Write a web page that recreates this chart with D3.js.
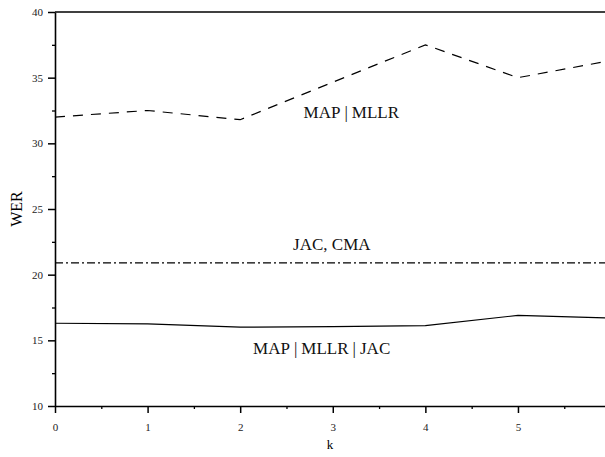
<!DOCTYPE html>
<html>
<head>
<meta charset="utf-8">
<script src="https://cdn.jsdelivr.net/npm/d3@7"></script>
<style>
  body { margin: 0; background: #fff; }
  svg text { font-family: "Liberation Serif", "DejaVu Serif", serif; }
</style>
</head>
<body>
<div id="chart"></div>
<script>
// values
const kValues = [0, 1, 2, 3, 4, 5, 6];
const mapMllr = [32.0, 32.5, 31.8, 34.65, 37.5, 35.0, 36.3];
const mapMllrJac = [16.3, 16.25, 16.0, 16.05, 16.12, 16.9, 16.7];
const jacCma = [20.9, 20.9, 20.9, 20.9, 20.9, 20.9, 20.9];
const xTicks = [0, 1, 2, 3, 4, 5];
const yTicks = [10, 15, 20, 25, 30, 35, 40];

const width = 605, height = 457;
const margin = {top: 12, right: 0, bottom: 51, left: 55};
const serif = '"Liberation Serif", "DejaVu Serif", serif';

const svg = d3.select('#chart')
    .append('svg')
    .attr('width', width)
    .attr('height', height)
    .attr('font-family', serif);

const x = d3.scaleLinear()
    .domain([0, 5.94])
    .range([margin.left, width - margin.right]);
const y = d3.scaleLinear()
    .domain([10, 40])
    .range([height - margin.bottom, margin.top]);

svg.append('clipPath')
    .attr('id', 'plot-clip')
    .append('rect')
    .attr('x', margin.left)
    .attr('y', margin.top)
    .attr('width', width - margin.left - margin.right)
    .attr('height', height - margin.top - margin.bottom);

// minor ticks
svg.append('g')
    .attr('transform', `translate(0,${y(10)})`)
    .call(d3.axisBottom(x).tickValues([0.5, 1.5, 2.5, 3.5, 4.5, 5.5]).tickSize(3).tickFormat(''))
    .call(g => g.select('.domain').remove())
    .call(g => g.selectAll('line').attr('stroke-width', 1.3));
svg.append('g')
    .attr('transform', `translate(${x(0)},0)`)
    .call(d3.axisLeft(y).tickValues([12.5, 17.5, 22.5, 27.5, 32.5, 37.5]).tickSize(3).tickFormat(''))
    .call(g => g.select('.domain').remove())
    .call(g => g.selectAll('line').attr('stroke-width', 1.3));

// major axes
svg.append('g')
    .attr('transform', `translate(0,${y(10)})`)
    .call(d3.axisBottom(x).tickValues(xTicks).tickFormat(d3.format('d'))
        .tickSize(7).tickSizeOuter(0).tickPadding(10))
    .attr('font-family', serif)
    .call(g => g.select('.domain').attr('stroke-width', 1.6))
    .call(g => g.selectAll('line').attr('stroke-width', 1.5))
    .call(g => g.selectAll('text').attr('font-size', 11).attr('fill', '#222'));

svg.append('g')
    .attr('transform', `translate(${x(0)},0)`)
    .call(d3.axisLeft(y).tickValues(yTicks).tickFormat(d3.format('d'))
        .tickSize(7).tickSizeOuter(0).tickPadding(5))
    .attr('font-family', serif)
    .call(g => g.select('.domain').attr('stroke-width', 1.6))
    .call(g => g.selectAll('line').attr('stroke-width', 1.5))
    .call(g => g.selectAll('text').attr('font-size', 11).attr('fill', '#222'));

// top frame line
svg.append('line')
    .attr('x1', x(0)).attr('x2', width - margin.right)
    .attr('y1', y(40)).attr('y2', y(40))
    .attr('stroke', '#000')
    .attr('stroke-width', 1.6);

const line = d3.line()
    .x((d, i) => x(kValues[i]))
    .y(d => y(d));

const series = [
    {values: mapMllr, dash: '10,8'},
    {values: jacCma, dash: '8,3,2,3'},
    {values: mapMllrJac, dash: null}
];

svg.append('g')
    .attr('clip-path', 'url(#plot-clip)')
    .selectAll('path')
    .data(series)
    .enter()
    .append('path')
    .attr('d', d => line(d.values))
    .attr('fill', 'none')
    .attr('stroke', '#000')
    .attr('stroke-width', 1.2)
    .attr('stroke-dasharray', d => d.dash);

// in-plot labels
function label(parts, cx, cy) {
    const t = svg.append('text')
        .attr('x', x(cx))
        .attr('y', y(cy))
        .attr('text-anchor', 'middle')
        .attr('font-size', 17)
        .attr('fill', '#111');
    parts.forEach((p, i) => {
        if (i > 0) {
            t.append('tspan').attr('dx', 4).text('|');
            t.append('tspan').attr('dx', 4).text(p);
        } else {
            t.append('tspan').text(p);
        }
    });
}
label(['MAP', 'MLLR'], 3.2, 31.93);
label(['JAC, CMA'], 2.99, 21.88);
label(['MAP', 'MLLR', 'JAC'], 2.88, 13.96);

// axis titles
svg.append('text')
    .attr('transform', `translate(22,${(y(10) + y(40)) / 2}) rotate(-90)`)
    .attr('text-anchor', 'middle')
    .attr('font-size', 16)
    .text('WER');

svg.append('text')
    .attr('x', (x(0) + width - margin.right) / 2)
    .attr('y', 449)
    .attr('text-anchor', 'middle')
    .attr('font-size', 13)
    .text('k');
</script>
</body>
</html>
